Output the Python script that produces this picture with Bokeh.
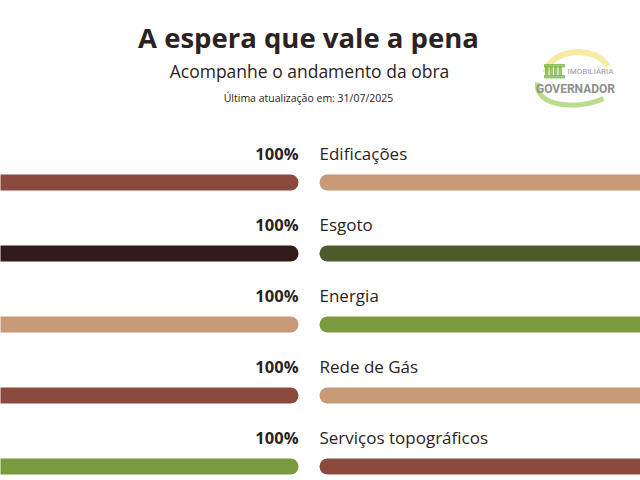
from bokeh.plotting import figure
from bokeh.models import Range1d, ColumnDataSource
from bokeh.core.properties import value
from bokeh.embed import file_html
from bokeh.resources import INLINE

# ---- data ----
categories = ["Edificações", "Esgoto", "Energia", "Rede de Gás", "Serviços topográficos"]
percent = [100, 100, 100, 100, 100]
left_colors = ["#8A4A3D", "#311A17", "#C89A78", "#8A4A3D", "#7A9A3E"]
right_colors = ["#C89A78", "#4D5A2C", "#7A9A3E", "#C89A78", "#8A4A3D"]

title = "A espera que vale a pena"
subtitle = "Acompanhe o andamento da obra"
updated = "Última atualização em: 31/07/2025"

W, H = 640, 480
p = figure(width=W, height=H, x_range=Range1d(0, W), y_range=Range1d(H, 0),
           toolbar_location=None, output_backend="svg", min_border=0)
p.axis.visible = False
p.grid.visible = False
p.outline_line_color = None
p.background_fill_color = "white"
p.border_fill_color = "white"

FONT = "Open Sans"

# header
p.text(x=[308], y=[37], text=[title], text_align="center", text_baseline="middle",
       text_font=value(FONT), text_font_style="bold", text_font_size="27.5px", text_color="#2B2321")
p.text(x=[309], y=[70], text=[subtitle], text_align="center", text_baseline="middle",
       text_font=value(FONT), text_font_size="17.5px", text_color="#2B2321")
p.text(x=[308], y=[97], text=[updated], text_align="center", text_baseline="middle",
       text_font=value(FONT), text_font_size="10.5px", text_color="#2B2321")

# logo
p.bezier(x0=[545], y0=[72], x1=[607], y1=[66], cx0=[550], cy0=[48], cx1=[596], cy1=[44],
         line_color="#F2E27A", line_width=6, line_alpha=0.7)
p.bezier(x0=[537], y0=[82], x1=[603], y1=[98], cx0=[533], cy0=[106], cx1=[578], cy1=[110],
         line_color="#8CC63F", line_width=5, line_alpha=0.6)
p.quad(left=[544], right=[564], top=[64], bottom=[66.5], color="#7FB84A", alpha=0.75)
p.quad(left=[544], right=[564], top=[75], bottom=[77.5], color="#7FB84A", alpha=0.75)
p.quad(left=[545, 549.5, 554, 558.5], right=[547.5, 552, 556.5, 561],
       top=[66.5] * 4, bottom=[75] * 4, color="#7FB84A", alpha=0.75)
p.text(x=[567], y=[71], text=["IMOBILIÁRIA"], text_align="left", text_baseline="middle",
       text_font=value("Roboto"), text_font_size="8px", text_color="#9A9A9A")
p.text(x=[575], y=[88], text=["GOVERNADOR"], text_align="center", text_baseline="middle",
       text_font=value("Roboto"), text_font_style="bold",
       text_font_size="12px", text_color="#8F8F8F")

# rows
ROW0, STEP = 153, 71
LEFT_END, RIGHT_START, CAP = 298, 319, 8
label_y = [ROW0 + STEP * i for i in range(len(categories))]
bar_y = [y + 29 for y in label_y]
left_x1 = [LEFT_END * v / 100 - CAP for v in percent]

src = ColumnDataSource(dict(
    cat=categories, pct=[f"{v}%" for v in percent], ly=label_y, by=bar_y,
    lc=left_colors, rc=right_colors, lx1=left_x1,
    lx0=[-40] * len(categories), rx0=[RIGHT_START + CAP] * len(categories),
    rx1=[W + 40] * len(categories), px=[LEFT_END] * len(categories),
    cx=[RIGHT_START] * len(categories)))

p.segment(x0="lx0", y0="by", x1="lx1", y1="by", line_color="lc", line_width=16,
          line_cap="round", source=src)
p.segment(x0="rx0", y0="by", x1="rx1", y1="by", line_color="rc", line_width=16,
          line_cap="round", source=src)
p.text(x="px", y="ly", text="pct", text_align="right", text_baseline="middle",
       text_font=value(FONT), text_font_style="bold", text_font_size="16.5px",
       text_color="#2B2321", source=src)
p.text(x="cx", y="ly", text="cat", text_align="left", text_baseline="middle",
       text_font=value(FONT), text_font_size="17px", text_color="#2B2321", source=src)

open("out.html", "w").write(file_html(p, INLINE))
